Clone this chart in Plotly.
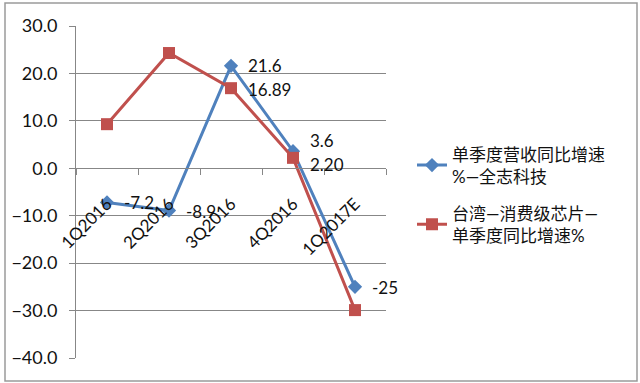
import plotly.graph_objects as go

categories = ["1Q2016", "2Q2016", "3Q2016", "4Q2016", "1Q2017E"]
blue_name = "单季度营收同比增速<br>%—全志科技"
red_name = "台湾—消费级芯片—<br>单季度同比增速%"
blue_values = [-7.2, -8.9, 21.6, 3.6, -25]
red_values = [9.3, 24.3, 16.89, 2.20, -29.9]
blue_labels = ["-7.2", "-8.9", "21.6", "3.6", "-25"]
red_labels = ["", "", "16.89", "2.20", ""]
y_ticks = [-40, -30, -20, -10, 0, 10, 20, 30]

BLUE = "#4F81BD"
RED = "#C0504D"
FONT = "Lato, Noto Sans CJK SC, sans-serif"

fig = go.Figure()
fig.add_trace(go.Scatter(
    x=categories, y=blue_values, name=blue_name, mode="lines+markers",
    legendgroup="a",
    line=dict(color=BLUE, width=3),
    marker=dict(symbol="diamond", size=11, color=BLUE),
    cliponaxis=False,
))
fig.add_trace(go.Scatter(
    x=categories, y=red_values, name=red_name, mode="lines+markers",
    legendgroup="b",
    line=dict(color=RED, width=3),
    marker=dict(symbol="square", size=12, color=RED),
    cliponaxis=False,
))

blue_yshift = [0, -1, 0, 11, -1]
red_yshift = [0, 0, -1, -7, 0]
annotations = []
for cat, v, lab, ys in zip(categories, blue_values, blue_labels, blue_yshift):
    if lab:
        annotations.append(dict(x=cat, y=v, text=lab, showarrow=False, xanchor="left",
                                yanchor="middle", xshift=15, yshift=ys,
                                font=dict(family=FONT, size=17, color="#111")))
for cat, v, lab, ys in zip(categories, red_values, red_labels, red_yshift):
    if lab:
        annotations.append(dict(x=cat, y=v, text=lab, showarrow=False, xanchor="left",
                                yanchor="middle", xshift=15, yshift=ys,
                                font=dict(family=FONT, size=17, color="#111")))

L, R, T, B = 76, 254, 26, 25
W, H = 640 - L - R, 383 - T - B

def px(xp):
    return (xp - L) / W

def py(yp):
    return (383 - B - yp) / H

fig.update_layout(
    width=640, height=383,
    margin=dict(l=L, r=R, t=T, b=B),
    paper_bgcolor="white", plot_bgcolor="white",
    font=dict(family=FONT, size=15, color="#111"),
    showlegend=True,
    legend=dict(x=px(412), y=py(195), xanchor="left", yanchor="middle",
                font=dict(family=FONT, size=17, color="#111"),
                traceorder="grouped", tracegroupgap=12, bgcolor="rgba(0,0,0,0)"),
    annotations=annotations,
    xaxis=dict(
        type="category", anchor="free", position=(0 - (-40)) / 70,
        showline=True, linecolor="#878787", linewidth=1,
        ticks="outside", tickson="boundaries", ticklen=6, tickcolor="#878787",
        tickangle=-45, showgrid=False, range=[-0.5, 4.5],
        ticklabelstandoff=18,
        tickfont=dict(family=FONT, size=17, color="#111"),
    ),
    yaxis=dict(
        range=[-40, 30], tickvals=y_ticks, tickformat=".1f",
        showline=True, linecolor="#878787", linewidth=1,
        ticks="outside", ticklen=6, tickcolor="#878787",
        showgrid=True, gridcolor="#878787", gridwidth=1,
        zeroline=False, ticklabelstandoff=8,
        tickfont=dict(family=FONT, size=18, color="#111"),
    ),
    shapes=[dict(type="rect", xref="paper", yref="paper",
                 x0=px(5), x1=px(637), y0=py(381), y1=py(3),
                 line=dict(color="#9a9a9a", width=1.5), layer="below")],
)

fig.write_html("out.html")
